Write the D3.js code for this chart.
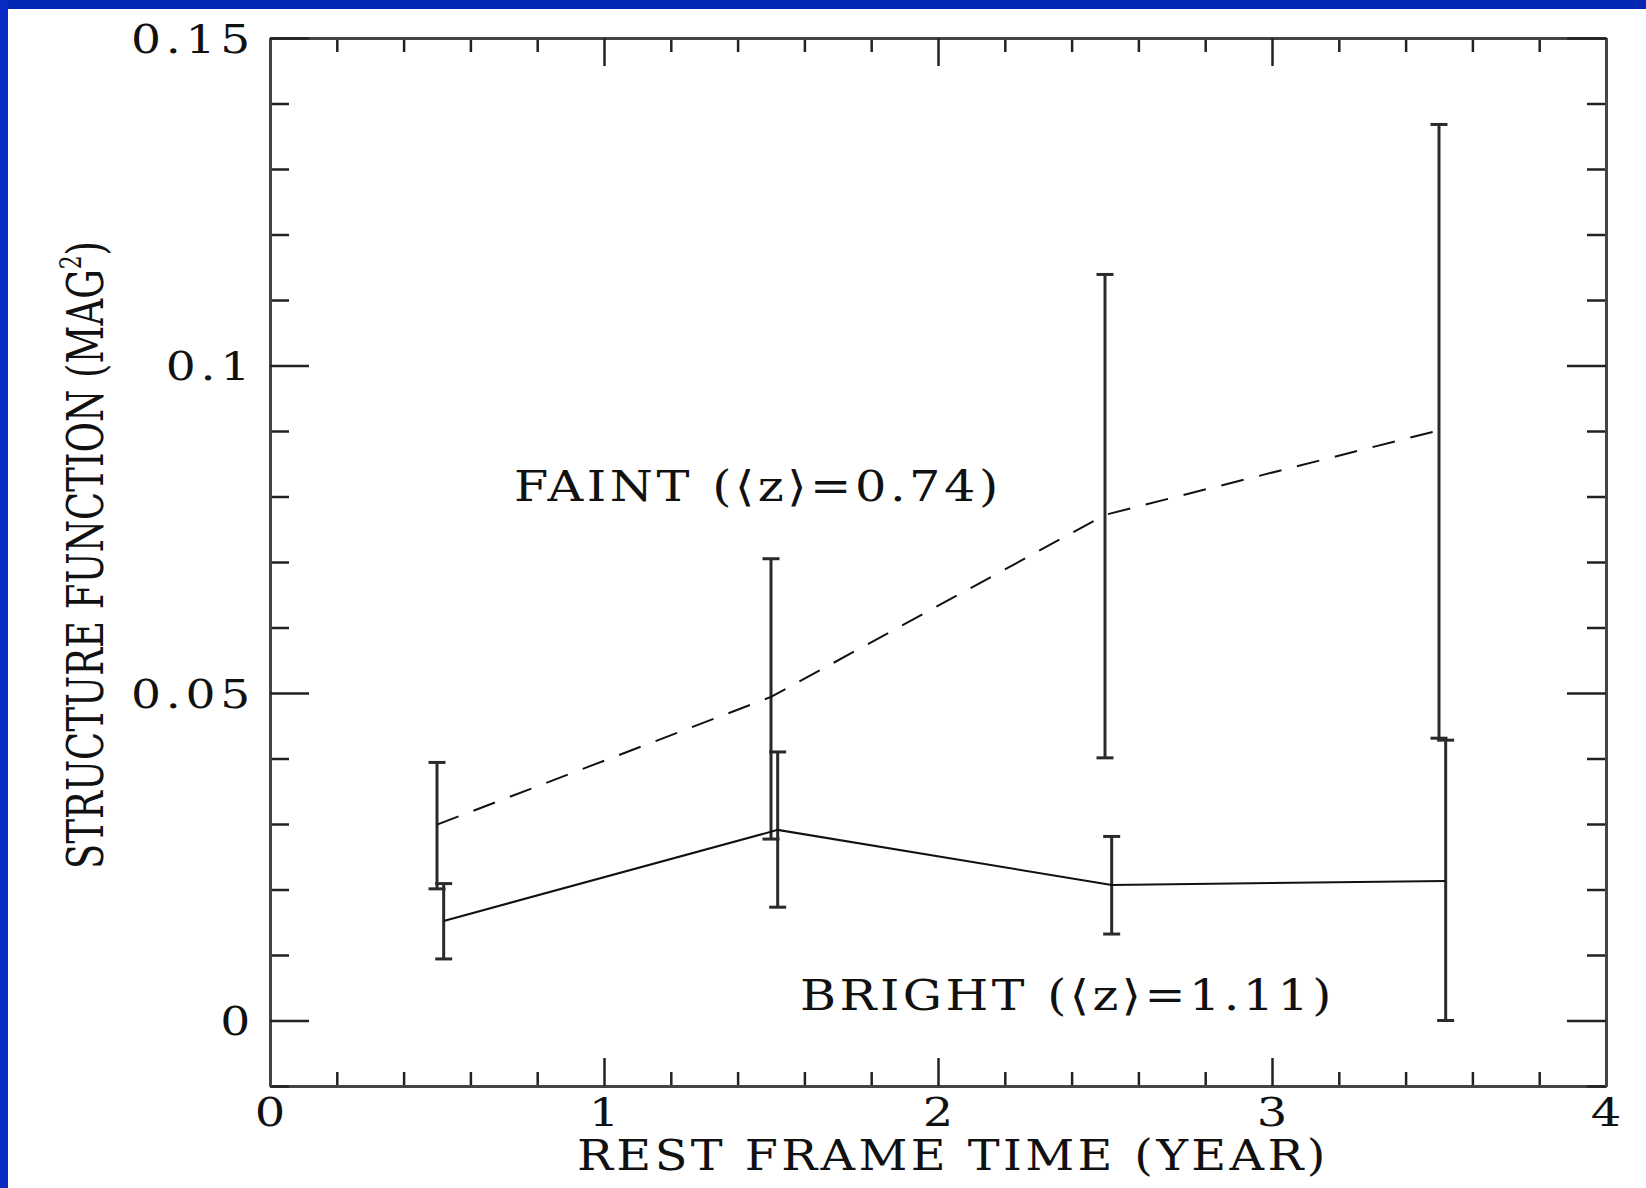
<!DOCTYPE html>
<html>
<head>
<meta charset="utf-8">
<title>Structure function vs rest frame time</title>
<script src="https://cdn.jsdelivr.net/npm/d3@7"></script>
<style>
  body { margin: 0; background: #fff; }
  svg { display: block; }
  text { font-family: "DejaVu Serif", "Liberation Serif", serif; fill: #111; }
</style>
</head>
<body>
<script>
// faint sample (dashed line)
var faintX  = [0.5, 1.5, 2.5, 3.5];
var faintY  = [0.0299, 0.0494, 0.0772, 0.0901];
var faintLo = [0.0201, 0.0277, 0.0401, 0.0431];
var faintHi = [0.0394, 0.0705, 0.1139, 0.1368];

// bright sample (solid line)
var brightX  = [0.52, 1.52, 2.52, 3.52];
var brightY  = [0.0152, 0.0291, 0.0207, 0.0213];
var brightLo = [0.0094, 0.0173, 0.0132, 0.0];
var brightHi = [0.0209, 0.0410, 0.0281, 0.0428];

// ticks
var xMajor = [0, 1, 2, 3, 4];
var xLabels = ["0", "1", "2", "3", "4"];
var yMajor = [0, 0.05, 0.1, 0.15];
var yLabels = ["0", "0.05", "0.1", "0.15"];

var width = 1646, height = 1188;
// note: "top" is a reserved window property, so use plot* names
var plotLeft = 270, plotRight = 1606, plotTop = 38, plotBottom = 1086;

var svg = d3.select("body").append("svg")
    .attr("width", width)
    .attr("height", height);

svg.append("rect").attr("width", width).attr("height", height).attr("fill", "#fff");
// blue slide frame
svg.append("rect").attr("x", 0).attr("y", 0).attr("width", width).attr("height", 9).attr("fill", "#0427b6");
svg.append("rect").attr("x", 0).attr("y", 0).attr("width", 8).attr("height", height).attr("fill", "#0a2cc4");

var x = d3.scaleLinear().domain([0, 4]).range([plotLeft, plotRight]);
var y = d3.scaleLinear().domain([-0.01, 0.15]).range([plotBottom, plotTop]);

var xMinor = d3.range(0, 21).filter(function(i) { return i % 5 !== 0; }).map(function(i) { return i / 5; });
var yMinor = d3.range(-1, 16).filter(function(i) { return i % 5 !== 0; }).map(function(i) { return i / 100; });

function styleAxis(g) {
    g.select(".domain").attr("stroke", "#444").attr("stroke-width", 3);
    g.selectAll(".tick line").attr("stroke", "#222").attr("stroke-width", 2.5);
    g.selectAll(".tick text").remove();
}

// ticks point inwards on all four sides
var axes = [
    {a: d3.axisBottom(x), t: "translate(0," + plotBottom + ")", v: xMajor, m: xMinor, big: 28, small: 14},
    {a: d3.axisTop(x), t: "translate(0," + plotTop + ")", v: xMajor, m: xMinor, big: 28, small: 14},
    {a: d3.axisLeft(y), t: "translate(" + plotLeft + ",0)", v: yMajor, m: yMinor, big: 39, small: 19},
    {a: d3.axisRight(y), t: "translate(" + plotRight + ",0)", v: yMajor, m: yMinor, big: 39, small: 19}
];
axes.forEach(function(o) {
    svg.append("g").attr("transform", o.t)
        .call(o.a.tickValues(o.m).tickSizeInner(-o.small).tickSizeOuter(0).tickFormat(""))
        .call(styleAxis);
    svg.append("g").attr("transform", o.t)
        .call(o.a.tickValues(o.v).tickSizeInner(-o.big).tickSizeOuter(0).tickFormat(""))
        .call(styleAxis);
});

// the plot font is wide: stretch glyphs horizontally, either by a fixed
// factor or so the text covers a given width
function place(t, px, py, sx) {
    t.attr("transform", "translate(" + px + "," + py + ") scale(" + sx + ",1)");
}
function fitText(str, px, py, size, w) {
    var t = svg.append("text").attr("font-size", size).attr("letter-spacing", 3).text(str);
    place(t, px, py, w / t.node().getBBox().width);
    return t;
}

svg.append("g").selectAll("text")
    .data(xMajor).enter().append("text")
    .attr("text-anchor", "middle")
    .attr("font-size", 40)
    .text(function(d, i) { return xLabels[i]; })
    .each(function(d) { place(d3.select(this), x(d), 1126, 1.2); });

svg.append("g").selectAll("text")
    .data(yMajor).enter().append("text")
    .attr("text-anchor", "end")
    .attr("font-size", 40)
    .attr("letter-spacing", 4)
    .text(function(d, i) { return yLabels[i]; })
    .each(function(d) { place(d3.select(this), 255, y(d) + 14.5, 1.18); });

// error bars
function errorBars(cls, xs, lo, hi) {
    var g = svg.append("g").attr("class", cls).attr("stroke", "#2a2a2a").attr("stroke-width", 3);
    var idx = d3.range(xs.length);
    g.selectAll(".bar").data(idx).enter().append("line")
        .attr("x1", function(i) { return x(xs[i]); })
        .attr("x2", function(i) { return x(xs[i]); })
        .attr("y1", function(i) { return y(lo[i]); })
        .attr("y2", function(i) { return y(hi[i]); });
    [lo, hi].forEach(function(arr) {
        g.selectAll(null).data(idx).enter().append("line")
            .attr("x1", function(i) { return x(xs[i]) - 8.5; })
            .attr("x2", function(i) { return x(xs[i]) + 8.5; })
            .attr("y1", function(i) { return y(arr[i]); })
            .attr("y2", function(i) { return y(arr[i]); });
    });
}
errorBars("faint-err", faintX, faintLo, faintHi);
errorBars("bright-err", brightX, brightLo, brightHi);

var line = d3.line()
    .x(function(d) { return x(d[0]); })
    .y(function(d) { return y(d[1]); });

svg.append("path")
    .datum(d3.zip(faintX, faintY))
    .attr("d", line)
    .attr("fill", "none")
    .attr("stroke", "#111")
    .attr("stroke-width", 2)
    .attr("stroke-dasharray", "23,16");

svg.append("path")
    .datum(d3.zip(brightX, brightY))
    .attr("d", line)
    .attr("fill", "none")
    .attr("stroke", "#111")
    .attr("stroke-width", 2);

// annotations
fitText("FAINT  (\u27E8z\u27E9=0.74)", 514, 501, 42, 488);
fitText("BRIGHT  (\u27E8z\u27E9=1.11)", 800, 1010, 42, 535);

// axis titles
fitText("REST FRAME TIME (YEAR)", 577, 1170, 42, 752);

var yt = svg.append("text")
    .attr("text-anchor", "middle")
    .attr("font-size", 51);
yt.append("tspan").text("STRUCTURE FUNCTION (MAG");
yt.append("tspan").attr("font-size", 30).attr("dy", -22).text("2");
yt.append("tspan").attr("dy", 22).text(")");
var yw = yt.node().getBBox().width;
yt.attr("transform", "translate(103,555) rotate(-90) scale(" + (628 / yw) + ",1)");
</script>
</body>
</html>
